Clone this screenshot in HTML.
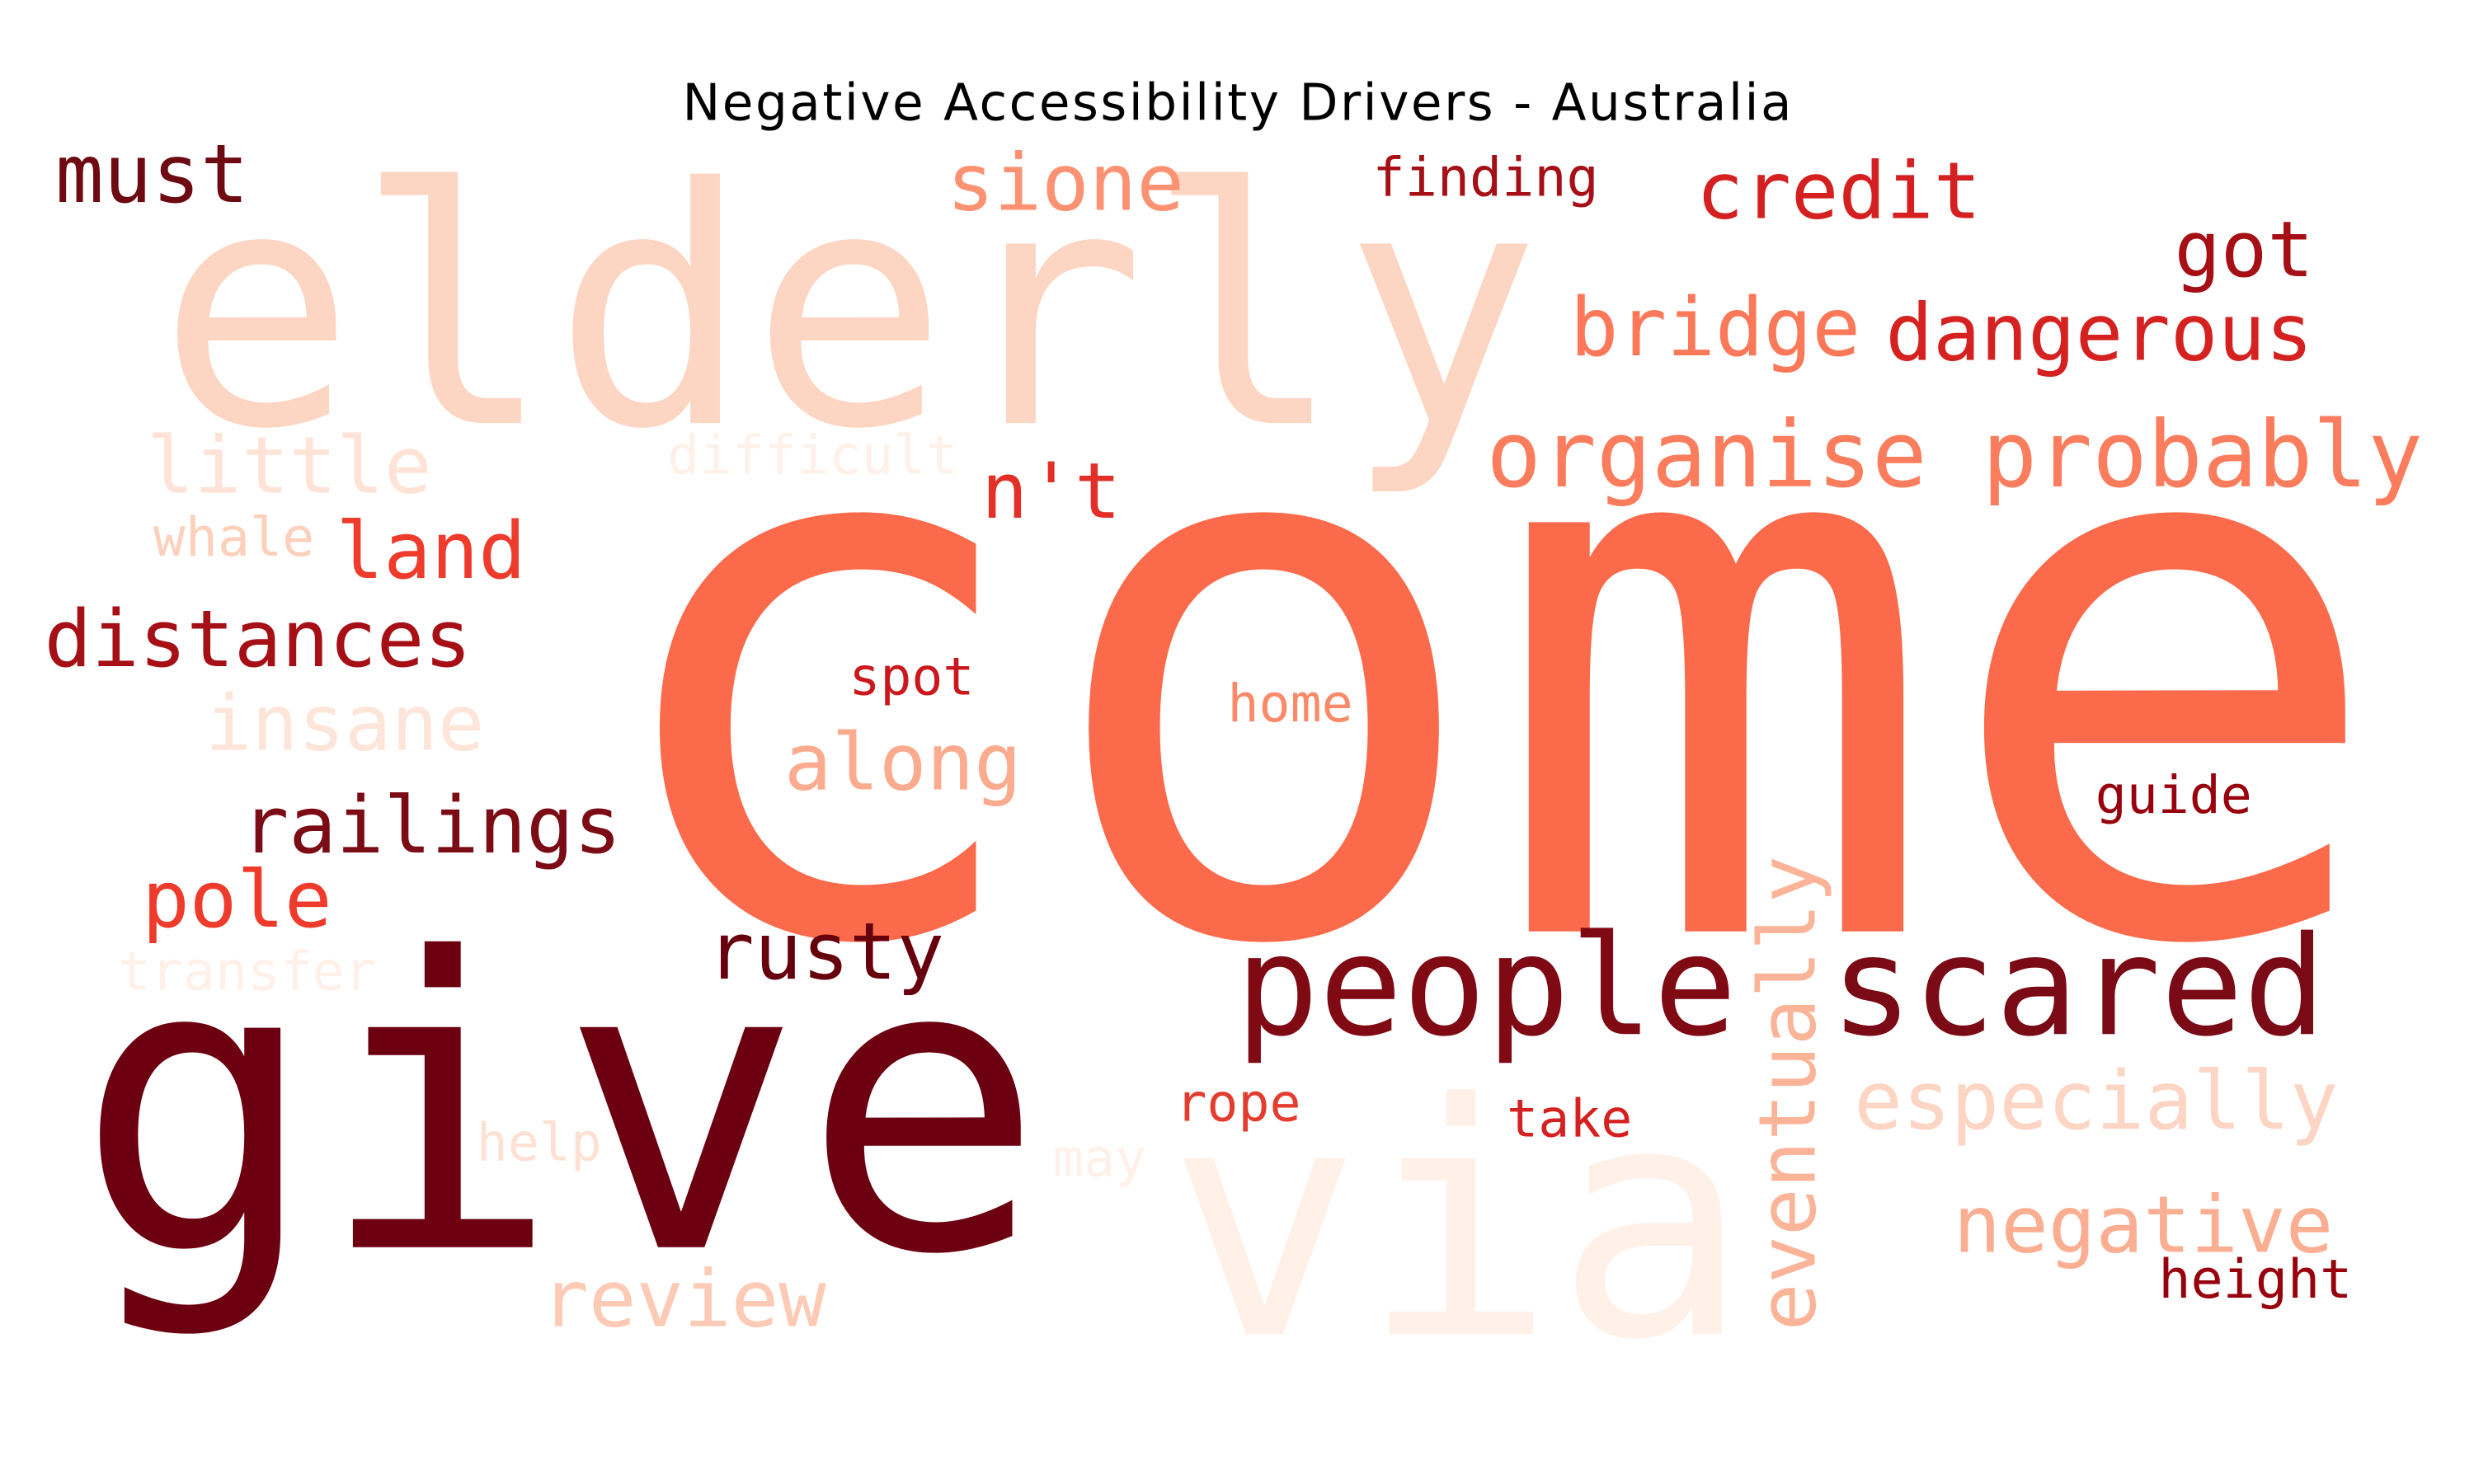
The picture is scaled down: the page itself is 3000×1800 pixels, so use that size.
<!DOCTYPE html>
<html><head><meta charset="utf-8"><style>
html,body{margin:0;padding:0;background:#fff;}
svg{display:block;}
</style></head><body>
<svg id="chart" width="3000" height="1800" viewBox="0 0 1568 940" preserveAspectRatio="none" xmlns="http://www.w3.org/2000/svg">
<rect width="1568" height="940" fill="#fff"/>
<text x="784" y="76" text-anchor="middle" font-family="DejaVu Sans, Liberation Sans, sans-serif" font-size="32" textLength="703" fill="#000">Negative Accessibility Drivers - Australia</text>
<g id="words"></g>
</svg>
<script>
const words = ["elderly","come","give","via","people","scared","organise probably","must","sione","finding","credit","got","bridge","dangerous","little","difficult","n't","whale","land","distances","spot","home","insane","along","guide","railings","eventually","pole","transfer","rusty","especially","rope","take","help","may","negative","height","review"];
const sizes = [208,474,255,204,88,87,58,51,50,34,50,49,51,50,50,34,49,34,50,50,33,33,49,50,33,50,50,50,34,50,51,33,33,33,33,50,34,50];
const xs = [100,373,48,740,783,1160,942,35,600,870,1075,1378,995,1195,93,423,622,97,213,28,538,778,130,497,1328,153,1150,90,75,448,1175,745,955,302,667,1238,1368,343];
const ys = [268,590,790,845,655,655,308,128,133,124,138,175,225,228,312,300,328,352,366,422,440,457,475,500,515,540,843,587,627,620,715,710,720,735,745,793,822,840];
const colors = ["#fdd5c3","#fb6a4a","#6d0010","#fff0e8","#7f0a14","#7a0a15","#fb7d5d","#6e0a12","#fc9272","#a50f15","#d42020","#a50f15","#fb7858","#d52221","#fee3d6","#fff0e8","#e32f27","#fdd0bc","#ef3b2c","#a50f15","#cb181d","#fc8a6a","#fee5d9","#fcab8f","#99000d","#7b0b14","#fcb499","#ef3b2c","#fff0e8","#67000d","#fdd5c4","#e33d2f","#d52221","#fee1d3","#fff0e8","#fcae92","#99000d","#fdcab5"];
const rotated = ["eventually"];
const g = document.getElementById('words');
const NS = "http://www.w3.org/2000/svg";
words.forEach((w,i)=>{
  const t = document.createElementNS(NS,'text');
  t.textContent = w;
  t.setAttribute('font-family','DejaVu Sans Mono, Liberation Mono, monospace');
  t.setAttribute('font-size', sizes[i]);
  t.setAttribute('fill', colors[i]);
  t.setAttribute('textLength', (sizes[i]*0.602*w.length).toFixed(1));
  if (rotated.includes(w)) {
    t.setAttribute('x', 0); t.setAttribute('y', 0);
    t.setAttribute('transform', `translate(${xs[i]},${ys[i]}) rotate(-90)`);
  } else {
    t.setAttribute('x', xs[i]); t.setAttribute('y', ys[i]);
  }
  
  
  g.appendChild(t);
});
</script>
</body></html>
